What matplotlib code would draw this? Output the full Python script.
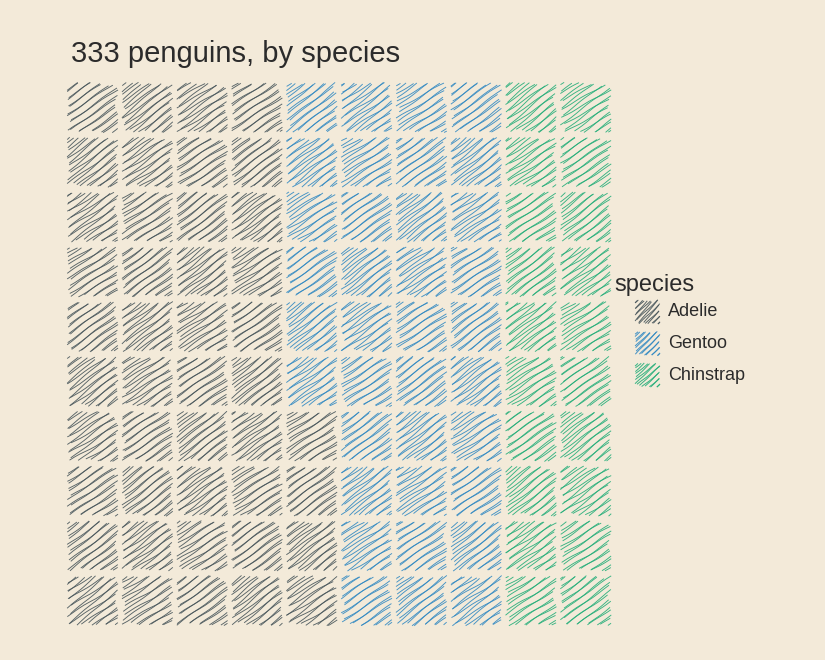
import numpy as np
import matplotlib
matplotlib.use("Agg")
import matplotlib.pyplot as plt
from matplotlib.collections import LineCollection

species = ["Adelie", "Gentoo", "Chinstrap"]
counts = [146, 119, 68]
squares = [44, 36, 20]
colors = ["#47555a", "#2f88c2", "#22ad78"]
bg = "#f3ead9"
ink = "#2b2b2b"

plt.rcParams["font.family"] = ["Liberation Sans", "DejaVu Sans"]


def sketch(ax, x0, y0, w, h, color, seed, step, lw=0.65, angs=(33, 39)):
    # rough diagonal scribble fill for one box
    segs = []
    for k, ang in enumerate(angs):
        t = np.tan(np.radians(ang + 3 * np.sin(seed * 1.7 + k))) * h / w
        off = (0.37 * seed + 0.5 * k) % step
        for j, cc in enumerate(np.arange(-w * t + off, h, step)):
            xa = max(x0, x0 - cc / t)
            xb = min(x0 + w, x0 + (h - cc) / t)
            if xb - xa < 0.05 * w:
                continue
            trim = 0.08 * (xb - xa)
            xa += trim * (0.5 + 0.5 * np.sin(seed + j * 2.3 + k))
            xb -= trim * (0.5 + 0.5 * np.cos(seed * 0.7 + j * 1.9 + k))
            xs = np.linspace(xa, xb, 10)
            ys = y0 + cc + t * (xs - x0) + 0.012 * h * np.sin(xs / w * 9 + j + seed)
            segs.append(np.column_stack([xs, ys]))
    ax.add_collection(LineCollection(segs, colors=color, linewidths=lw, alpha=0.9))


fig = plt.figure(figsize=(8.25, 6.6), dpi=100, facecolor=bg)
ax = fig.add_axes([66 / 825, 1 - 627 / 660, 548 / 825, 548 / 660])
ax.set_facecolor(bg)
ax.set_xlim(0, 10)
ax.set_ylim(0, 10)
ax.axis("off")

# fill column by column, bottom to top
labels = []
for s, n in zip(species, squares):
    labels += [s] * n

cw, ch = 0.93, 0.9
for i, lab in enumerate(labels):
    col, row = i // 10, i % 10
    sketch(ax, col + 0.02, row + 0.03, cw, ch, colors[species.index(lab)], i, 0.15)

fig.text(71 / 825, 1 - 54 / 660, f"{sum(counts)} penguins, by species",
         fontsize=21, color=ink, va="center", ha="left")

# legend, in pixel coordinates
lax = fig.add_axes([0, 0, 1, 1], facecolor="none")
lax.set_xlim(0, 825)
lax.set_ylim(0, 660)
lax.axis("off")
lax.text(614, 660 - 285, "species", fontsize=17, color=ink, va="center", ha="left")
for k, (s, c) in enumerate(zip(species, colors)):
    yc = 660 - (312 + k * 31.5)
    sketch(lax, 635, yc - 12, 25, 24, c, 200 + k, 6.0, lw=0.7, angs=(42, 48))
    lax.text(668, yc, s, fontsize=13, color=ink, va="center", ha="left")

fig.savefig("out.png", dpi=100, facecolor=bg)
